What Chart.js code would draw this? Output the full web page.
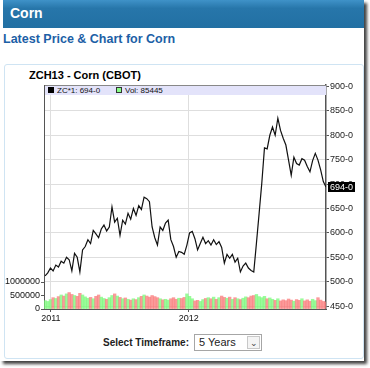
<!DOCTYPE html>
<html>
<head>
<meta charset="utf-8">
<script src="https://cdn.jsdelivr.net/npm/chart.js@4"></script>
<style>
  body { margin: 0; width: 370px; height: 368px; overflow: hidden; background: #fff;
         font-family: 'Liberation Sans', Arial, sans-serif; position: relative; }
  .abs { position: absolute; }
  #page { left: 0; top: 0; width: 364px; height: 361px; background: #fff;
          box-shadow: 3px 3px 3px rgba(0,0,0,0.75); }
  #header { left: 3px; top: 0; width: 361px; height: 28px; color: #fff; font-weight: bold; font-size: 14px;
            line-height: 26px; text-indent: 7px;
            background: linear-gradient(#3f92c8 0%, #2776aa 30%, #2270a3 100%); }
  #sub { left: 3px; top: 32px; color: #1c60a6; font-weight: bold; font-size: 12.5px; }
  #box { left: 4px; top: 64px; width: 358px; height: 293px; border: 1px solid #cfe4f3; border-radius: 3px; }
  #ctitle { left: 29px; top: 69px; font-weight: bold; font-size: 11px; color: #000; }
  #wrap { left: 4px; top: 66px; width: 358px; height: 260px; }
  #legend { left: 45px; top: 85px; width: 281px; height: 9px; background: #e3e3fa; border-top: 1px solid #888;
            font-size: 8px; line-height: 9px; color: #111; }
  #legend span { position: absolute; top: 0; }
  .sq { display: inline-block; width: 6px; height: 6px; vertical-align: -0px; margin-right: 3px; box-sizing: border-box; }
  #tf { left: 103px; top: 337px; font-weight: bold; font-size: 10px; color: #222; }
  #sel { left: 194px; top: 334px; width: 68px; height: 17px; border: 1px solid #a6a6a6; font-size: 11px;
         line-height: 17px; color: #222; box-sizing: border-box; }
  #sel .txt { position: absolute; left: 4px; top: -1px; }
  #sel .arr { position: absolute; right: 1px; top: 1px; width: 13px; height: 13px; border: 1px solid #c8c8c8;
              font-size: 9px; line-height: 12px; text-align: center; color: #444; background: #f4f4f4;
              box-sizing: border-box; }
</style>
</head>
<body>
<div id="page" class="abs"></div>
<div id="header" class="abs">Corn</div>
<div id="sub" class="abs">Latest Price &amp; Chart for Corn</div>
<div id="box" class="abs"></div>
<div id="ctitle" class="abs">ZCH13 - Corn (CBOT)</div>
<div id="wrap" class="abs"><canvas id="cornChart" width="358" height="260"></canvas></div>
<div id="legend" class="abs">
  <span style="left:3px"><i class="sq" style="background:#000"></i>ZC*1: 694-0</span>
  <span style="left:71px"><i class="sq" style="background:#8f8;border:1px solid #333"></i>Vol: 85445</span>
</div>
<div id="tf" class="abs">Select Timeframe:</div>
<div id="sel" class="abs"><span class="txt">5 Years</span><span class="arr">&#8964;</span></div>

<script>
// weekly closes, ZC front month (cents/bu)
const startYear = 2010.958;
const weekStep = 0.0194;
const prices = [
  512, 518, 528, 522, 534, 530, 542, 538, 550, 545,
  522, 558, 550, 520, 565, 572, 586, 578, 605, 598,
  590, 608, 616, 604, 612, 653, 622, 630, 595, 626,
  618, 640, 628, 650, 636, 656, 648, 673, 670, 664,
  612, 590, 575, 612, 605, 620, 626, 586, 572, 550,
  562, 560, 556, 575, 600, 603, 588, 565, 578, 591,
  578, 584, 575, 586, 576, 582, 570, 538, 556, 548,
  556, 540, 548, 520, 532, 538, 528, 523, 520, 579,
  640, 702, 774, 772, 800, 817, 800, 835, 810, 794,
  780, 749, 718, 755, 742, 739, 752, 749, 736, 725,
  748, 763, 749, 729, 705, 694
];
const volumes = [
  310000, 280000, 350000, 420000, 390000, 460000, 520000, 480000, 560000, 610000,
  540000, 500000, 470000, 580000, 520000, 450000, 400000, 430000, 380000, 470000,
  520000, 440000, 390000, 360000, 420000, 500000, 560000, 480000, 430000, 380000,
  410000, 360000, 330000, 380000, 350000, 420000, 470000, 520000, 480000, 440000,
  500000, 460000, 420000, 380000, 340000, 360000, 330000, 380000, 420000, 360000,
  400000, 390000, 430000, 560000, 470000, 380000, 300000, 320000, 280000, 350000,
  390000, 420000, 380000, 440000, 360000, 420000, 480000, 430000, 400000, 440000,
  360000, 420000, 380000, 350000, 400000, 450000, 420000, 480000, 500000, 540000,
  460000, 420000, 470000, 380000, 410000, 360000, 320000, 380000, 300000, 340000,
  310000, 370000, 330000, 290000, 350000, 320000, 380000, 300000, 340000, 290000,
  360000, 310000, 420000, 330000, 280000, 260000
];
const yearTicks = [2011, 2012];
const priceTicks = [450, 500, 550, 600, 650, 700, 750, 800, 850, 900];
const volumeTicks = [0, 500000, 1000000];

const lastPrice = prices[prices.length - 1];
const xs = prices.map((p, i) => startYear + i * weekStep);

Chart.defaults.font.family = "'Liberation Sans', Arial, sans-serif";
Chart.defaults.font.size = 9;
Chart.defaults.color = '#222';

// black box with the last price on the right axis
const lastPriceTag = {
  id: 'lastPriceTag',
  afterDraw(chart) {
    const s = chart.scales.yPrice;
    const y = s.getPixelForValue(lastPrice);
    const c = chart.ctx;
    c.save();
    c.fillStyle = '#000';
    c.fillRect(s.left + 2, y - 5, 27, 10);
    c.fillStyle = '#fff';
    c.font = "9px 'Liberation Sans', Arial, sans-serif";
    c.textBaseline = 'middle';
    c.fillText(lastPrice + '-0', s.left + 4, y + 0.5);
    c.restore();
  }
};

const ctx = document.getElementById('cornChart').getContext('2d');
const cornChart = new Chart(ctx, {
  data: {
    datasets: [{
      type: 'line',
      data: prices.map((p, i) => ({ x: xs[i], y: p })),
      yAxisID: 'yPrice',
      borderColor: '#111',
      borderWidth: 1.2,
      pointRadius: 0,
      tension: 0,
      order: 0
    }, {
      type: 'bar',
      data: volumes.map((v, i) => ({ x: xs[i], y: v })),
      yAxisID: 'yVol',
      backgroundColor: volumes.map((v, i) =>
        (i === 0 || prices[i] >= prices[i - 1]) ? 'rgba(120,250,120,0.75)' : 'rgba(250,120,120,0.75)'),
      barThickness: 2.7,
      order: 1
    }]
  },
  options: {
    responsive: false,
    animation: false,
    devicePixelRatio: 1,
    layout: { padding: { top: 19, left: 0, right: 0, bottom: 0 } },
    plugins: { legend: { display: false }, tooltip: { enabled: false } },
    scales: {
      x: {
        type: 'linear',
        offset: false,
        min: 2010.95,
        max: 2012.995,
        afterBuildTicks: a => { a.ticks = yearTicks.map(v => ({ value: v })); },
        afterFit: a => { a.height = 17; },
        ticks: { callback: v => String(v), padding: 1, maxRotation: 0, color: '#111' },
        grid: { offset: false, color: '#dedede', tickLength: 3, tickColor: '#555' },
        border: { color: '#555', width: 1 }
      },
      yPrice: {
        position: 'right',
        min: 444,
        max: 903,
        afterBuildTicks: a => { a.ticks = priceTicks.map(v => ({ value: v })); },
        afterFit: a => { a.width = 36; },
        ticks: { callback: v => v + '-0', padding: 1, color: '#222' },
        grid: { color: '#dedede', tickLength: 3, tickColor: '#555' },
        border: { color: '#555', width: 1.5 }
      },
      yVol: {
        position: 'left',
        min: 0,
        max: 8300000,
        afterBuildTicks: a => { a.ticks = volumeTicks.map(v => ({ value: v })); },
        afterFit: a => { a.width = 40; },
        ticks: { callback: v => String(v), padding: 1, color: '#111' },
        grid: { drawOnChartArea: false, tickLength: 3, tickColor: '#555' },
        border: { color: '#555', width: 1 }
      }
    }
  },
  plugins: [lastPriceTag]
});
</script>
</body>
</html>
